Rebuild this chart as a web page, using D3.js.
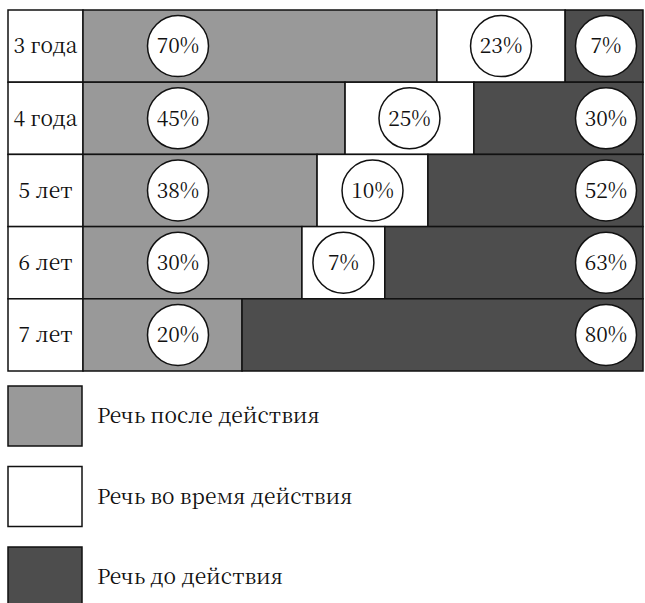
<!DOCTYPE html>
<html>
<head>
<meta charset="utf-8">
<script src="https://cdn.jsdelivr.net/npm/d3@7"></script>
<style>
  html, body { margin: 0; padding: 0; background: #fff; }
  svg { display: block; }
  svg text { font-family: 'Noto Serif CJK SC', 'Liberation Serif', serif; }
</style>
</head>
<body>
<svg id="chart"></svg>
<script>
// ages (rows)
const ages = ['3 года', '4 года', '5 лет', '6 лет', '7 лет'];

// printed percentages
const afterPct = [70, 45, 38, 30, 20];
const duringPct = [23, 25, 10, 7, null];
const beforePct = [7, 30, 52, 63, 80];

// segment lengths as drawn in the picture (% of the row, not to scale with the labels)
const afterBar = [63.2, 46.8, 41.8, 39.1, 28.4];
const duringBar = [22.9, 23.0, 19.8, 14.8, 0];
const beforeBar = [13.9, 30.2, 38.4, 46.1, 71.6];

const legendLabels = ['Речь после действия', 'Речь во время действия', 'Речь до действия'];

const width = 645;
const height = 603;
const margin = { top: 10, right: 2, left: 83, bottom: 232 };
const labelLeft = 8;
const fontSize = '21px';
const colors = { after: '#999999', during: '#ffffff', before: '#4d4d4d' };
const keys = ['after', 'during', 'before'];

const svg = d3.select('#chart')
  .attr('width', width)
  .attr('height', height);

const rows = ages.map((age, i) => ({
  age,
  after: afterBar[i], during: duringBar[i], before: beforeBar[i],
  pct: { after: afterPct[i], during: duringPct[i], before: beforePct[i] }
}));

const x = d3.scaleLinear()
  .domain([0, 100])
  .range([margin.left, width - margin.right]);

const y = d3.scaleBand()
  .domain(ages)
  .range([margin.top, height - margin.bottom])
  .padding(0);

const stacked = d3.stack().keys(keys)(rows);

// label column
svg.append('g')
  .selectAll('rect')
  .data(ages)
  .join('rect')
  .attr('x', labelLeft)
  .attr('y', d => y(d))
  .attr('width', margin.left - labelLeft)
  .attr('height', y.bandwidth())
  .attr('fill', '#fff')
  .attr('stroke', '#111')
  .attr('stroke-width', 1.5);

svg.append('g')
  .selectAll('text')
  .data(ages)
  .join('text')
  .attr('x', (labelLeft + margin.left) / 2)
  .attr('y', d => y(d) + y.bandwidth() / 2)
  .attr('dy', '0.35em')
  .attr('text-anchor', 'middle')
  .attr('font-size', fontSize)
  .attr('fill', '#111')
  .text(d => d);

// bar segments
const layer = svg.append('g')
  .selectAll('g')
  .data(stacked)
  .join('g')
  .attr('fill', d => colors[d.key]);

layer.selectAll('rect')
  .data(d => d.filter(s => s[1] - s[0] > 0))
  .join('rect')
  .attr('x', d => x(d[0]))
  .attr('y', d => y(d.data.age))
  .attr('width', d => x(d[1]) - x(d[0]))
  .attr('height', y.bandwidth())
  .attr('stroke', '#111')
  .attr('stroke-width', 1.5);

// circled percentages
const bubbles = [];
stacked.forEach(s => {
  s.forEach(d => {
    const v = d.data.pct[s.key];
    if (v == null) return;
    let cx;
    if (s.key === 'after') cx = x(d[0]) + 95;
    else if (s.key === 'before') cx = x(d[1]) - 37;
    else cx = (x(d[0]) + x(d[1])) / 2;
    bubbles.push({ cx, cy: y(d.data.age) + y.bandwidth() / 2, v });
  });
});

const bub = svg.append('g')
  .selectAll('g')
  .data(bubbles)
  .join('g')
  .attr('transform', d => `translate(${d.cx},${d.cy})`);

bub.append('circle')
  .attr('r', 30.5)
  .attr('fill', '#fff')
  .attr('stroke', '#111')
  .attr('stroke-width', 1.5);

bub.append('text')
  .attr('text-anchor', 'middle')
  .attr('dy', '0.35em')
  .attr('font-size', fontSize)
  .attr('fill', '#111')
  .text(d => `${d.v}%`);

// legend
const legend = svg.append('g')
  .selectAll('g')
  .data(keys)
  .join('g')
  .attr('transform', (d, i) => `translate(${labelLeft},${386 + i * 80.5})`);

legend.append('rect')
  .attr('width', margin.left - labelLeft - 1)
  .attr('height', 60)
  .attr('fill', d => colors[d])
  .attr('stroke', '#111')
  .attr('stroke-width', 1.5);

legend.append('text')
  .attr('x', 89)
  .attr('y', 30)
  .attr('dy', '0.35em')
  .attr('font-size', fontSize)
  .attr('fill', '#111')
  .text((d, i) => legendLabels[i]);
</script>
</body>
</html>
